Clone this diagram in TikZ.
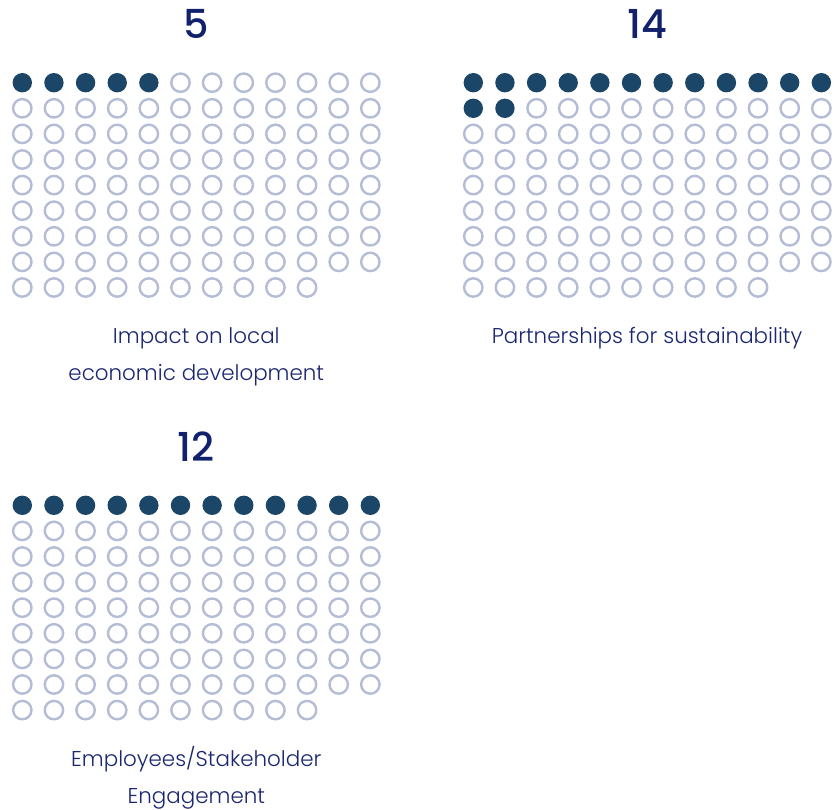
\documentclass[tikz,border=0pt]{standalone}
\usepackage{fontspec}
\setmainfont{Poppins}[UprightFont={* Light}, BoldFont={* Medium}]
\definecolor{dotfill}{HTML}{1B4668}
\definecolor{dotring}{HTML}{B4BCD6}
\definecolor{navy}{HTML}{1A2670}
\definecolor{numnavy}{HTML}{11216C}
\newcommand{\mywaffle}[3]{%
  \foreach \i in {0,...,105} {%
    \pgfmathtruncatemacro{\rr}{int(\i/12)}%
    \pgfmathtruncatemacro{\cc}{mod(\i,12)}%
    \ifnum\i<#3\relax
      \fill[dotfill] (#1+\cc*31.64, #2+\rr*25.6) circle (9.7bp);
    \else
      \draw[dotring, line width=2.4bp] (#1+\cc*31.64, #2+\rr*25.6) circle (9.2bp);
    \fi
  }%
}
\tikzset{
  numtxt/.style={anchor=base, inner sep=0pt, text=numnavy, font=\fontsize{40}{40}\selectfont\bfseries},
  labtxt/.style={anchor=base, inner sep=0pt, text=navy, font=\fontsize{21.5}{21.5}\selectfont}
}
\begin{document}
\begin{tikzpicture}[x=1bp,y=-1bp]
\useasboundingbox (0,0) rectangle (835,810);
\mywaffle{22.3}{82.7}{5}
\mywaffle{473.3}{82.7}{14}
\mywaffle{22.3}{505.3}{12}
\node[numtxt] (n1) at (196.3,39) {5};
\node[numtxt] (n2) at (647,39) {14};
\node[numtxt] (n3) at (196.3,461.5) {12};
\node[labtxt] (l1a) at (196.3,343.3) {Impact on local};
\node[labtxt] (l1b) at (196.3,380) {economic development};
\node[labtxt] (l2) at (647,343.3) {Partnerships for sustainability};
\node[labtxt] (l3a) at (196.3,766) {Employees/Stakeholder};
\node[labtxt] (l3b) at (196.3,803) {Engagement};
\end{tikzpicture}
\end{document}
